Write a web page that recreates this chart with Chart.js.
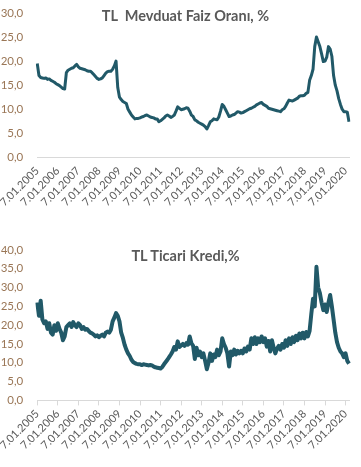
<!DOCTYPE html>
<html>
<head>
<meta charset="utf-8">
<script src="https://cdn.jsdelivr.net/npm/chart.js@4.4.1/dist/chart.umd.min.js"></script>
<style>
  html, body { margin: 0; padding: 0; background: #fff; }
  #wrap { position: relative; width: 361px; height: 467px; overflow: hidden; }
  canvas { position: absolute; left: 0; }
  .title {
    position: absolute; left: 5px; width: 361px; text-align: center;
    font-family: Lato, "Open Sans", sans-serif; font-weight: bold;
    font-size: 14.5px; color: #595959; white-space: pre;
  }
</style>
</head>
<body>
<div id="wrap">
  <canvas id="c1" width="361" height="230" style="top:0"></canvas>
  <canvas id="c2" width="361" height="230" style="top:237px"></canvas>
  <div class="title" style="top:7px">TL  Mevduat Faiz Oranı, %</div>
  <div class="title" style="top:247px">TL Ticari Kredi,%</div>
</div>
<script>
/* global Chart */

const LINE_COLOR = "#215968";
const Y_TICK_COLOR = "#9a7656";
const X_TICK_COLOR = "#595959";
const AXIS_COLOR = "#d9d9d9";

// x-axis year labels (one every 12 monthly points)
const yearTicks = [
  "7.01.2005", "7.01.2006", "7.01.2007", "7.01.2008", "7.01.2009", "7.01.2010",
  "7.01.2011", "7.01.2012", "7.01.2013", "7.01.2014", "7.01.2015", "7.01.2016",
  "7.01.2017", "7.01.2018", "7.01.2019", "7.01.2020"
];

// TL deposit rate, % (monthly readings, Jan 2005 - Mar 2020)
const depositRate = [
  19.5, 17.0, 16.6, 16.5, 16.4, 16.5, 16.2, 16.3, 16.0, 15.8, 15.6, 15.3, // 2005
  15.1, 14.9, 14.6, 14.3, 14.2, 17.6, 18.1, 18.3, 18.5, 18.6, 19.0, 19.3, // 2006
  18.8, 18.5, 18.4, 18.3, 18.2, 18.0, 17.9, 17.9, 17.6, 17.2, 16.8, 16.4, // 2007
  16.2, 16.3, 16.5, 17.0, 17.5, 17.8, 17.9, 17.9, 18.3, 19.0, 20.0, 14.5, // 2008
  12.5, 12.0, 11.6, 11.4, 11.2, 10.0, 9.4, 8.8, 8.4, 8.0, 8.1, 8.1,       // 2009
  8.2, 8.4, 8.5, 8.7, 8.8, 8.6, 8.4, 8.3, 8.2, 8.0, 8.0, 7.4,             // 2010
  7.6, 7.9, 8.2, 8.6, 8.8, 8.6, 8.3, 8.5, 8.8, 9.6, 10.5, 10.2,           // 2011
  9.9, 10.0, 10.1, 10.3, 10.2, 9.6, 8.8, 8.5, 7.8, 7.6, 7.3, 7.1,         // 2012
  6.9, 6.7, 6.4, 5.9, 6.6, 7.4, 7.6, 8.0, 7.9, 7.8, 8.4, 9.6,             // 2013
  11.0, 10.6, 9.9, 9.2, 8.5, 8.6, 8.8, 8.9, 9.2, 9.5, 9.4, 9.2,           // 2014
  9.3, 9.5, 9.7, 9.9, 10.1, 10.2, 10.4, 10.6, 10.9, 11.1, 11.3, 11.4,     // 2015
  11.0, 10.8, 10.6, 10.2, 10.1, 10.0, 9.9, 9.8, 9.7, 9.6, 9.5, 9.9,       // 2016
  10.1, 10.6, 11.3, 11.9, 11.8, 11.7, 11.9, 12.1, 12.3, 12.7, 12.8, 12.8, // 2017
  12.9, 13.3, 13.5, 16.0, 17.0, 18.3, 23.0, 25.0, 24.0, 23.0, 21.5, 19.9, // 2018
  20.0, 20.8, 23.0, 22.5, 21.0, 17.0, 15.0, 13.8, 12.2, 11.0, 10.0, 9.5,  // 2019
  9.5, 9.4, 7.4                                                           // 2020
];

// TL commercial loan rate, % (monthly readings, Jan 2005 - Mar 2020)
const loanRate = [
  26.0, 22.5, 26.5, 21.5, 20.5, 21.0, 19.0, 20.5, 18.0, 17.5, 20.0, 18.5, // 2005
  20.5, 19.0, 18.0, 16.0, 17.0, 19.5, 20.0, 20.5, 19.5, 20.8, 20.0, 19.5, // 2006
  20.5, 20.0, 19.0, 19.5, 18.8, 19.0, 18.5, 18.0, 17.8, 17.5, 17.0, 17.3, // 2007
  16.8, 17.2, 17.5, 17.0, 18.0, 18.3, 18.0, 18.8, 21.0, 22.0, 23.2, 22.5, // 2008
  21.0, 18.0, 16.6, 14.8, 13.5, 12.5, 11.8, 10.8, 10.2, 9.9, 9.7, 9.6,    // 2009
  9.6, 9.4, 9.6, 9.5, 9.4, 9.3, 9.4, 9.3, 9.0, 8.8, 8.7, 8.6,             // 2010
  8.5, 8.9, 9.6, 10.2, 10.8, 11.5, 12.2, 13.0, 14.2, 13.5, 15.7, 14.2,    // 2011
  14.6, 15.0, 14.5, 15.2, 14.8, 17.0, 15.2, 14.5, 11.0, 14.0, 12.0, 13.0, // 2012
  11.5, 12.5, 10.5, 8.3, 10.0, 12.5, 10.5, 12.2, 11.5, 13.5, 12.0, 13.0,  // 2013
  16.5, 15.0, 14.0, 12.5, 9.0, 13.0, 12.0, 13.5, 12.2, 13.2, 12.5, 13.2,  // 2014
  12.5, 13.8, 13.0, 14.3, 13.5, 16.5, 15.0, 16.8, 15.0, 16.5, 15.5, 17.0, // 2015
  15.5, 16.5, 14.3, 15.8, 13.0, 16.0, 14.0, 12.5, 13.8, 14.5, 13.5, 15.0, // 2016
  14.0, 16.0, 14.5, 16.5, 15.0, 16.8, 15.5, 17.2, 16.0, 17.8, 16.5, 18.0, // 2017
  16.5, 18.2, 17.0, 18.5, 23.0, 27.0, 25.0, 35.5, 30.0, 28.5, 26.0, 24.0, // 2018
  25.5, 23.5, 26.0, 28.0, 25.0, 21.5, 18.0, 15.5, 14.0, 13.0, 12.5, 11.5, // 2019
  12.5, 10.5, 9.8                                                         // 2020
];

// one category per monthly point
const months = depositRate.map((_, i) => `${2005 + Math.floor(i / 12)}-${String(i % 12 + 1).padStart(2, "0")}`);

const FONT = "Lato, 'Open Sans', sans-serif";
const fmtComma = (v) => Number(v).toFixed(1).replace(".", ",");

function buildOptions({ yMax, showTicks, padTop, padBottom }) {
  return {
    responsive: false,
    animation: false,
    layout: { padding: { top: padTop, right: 12, bottom: padBottom, left: 0 } },
    plugins: { legend: { display: false }, tooltip: { enabled: false } },
    scales: {
      x: {
        type: "category",
        ticks: {
          autoSkip: false,
          maxRotation: 45,
          minRotation: 45,
          padding: 2,
          color: X_TICK_COLOR,
          font: { family: FONT, size: 11 },
          callback: (val, idx) => (idx % 12 === 0 ? yearTicks[idx / 12] : "")
        },
        grid: {
          display: showTicks,
          drawOnChartArea: false,
          drawTicks: true,
          tickLength: 5,
          color: (ctx) => (ctx.index % 12 === 0 ? AXIS_COLOR : "transparent")
        },
        border: { display: true, color: AXIS_COLOR, width: 1 }
      },
      y: {
        min: 0,
        max: yMax,
        afterFit: (s) => { s.width = 36; },
        ticks: {
          stepSize: 5,
          padding: 6,
          color: Y_TICK_COLOR,
          font: { family: FONT, size: 11.5 },
          callback: fmtComma
        },
        grid: { display: false },
        border: { display: false }
      }
    }
  };
}

function lineDataset(data, width) {
  return {
    data,
    borderColor: LINE_COLOR,
    backgroundColor: LINE_COLOR,
    borderWidth: width,
    pointRadius: 0,
    tension: 0,
    borderJoinStyle: "round"
  };
}

new Chart(document.getElementById("c1").getContext("2d"), {
  type: "line",
  data: { labels: months, datasets: [lineDataset(depositRate, 3)] },
  options: buildOptions({ yMax: 30, showTicks: false, padTop: 11, padBottom: 19 })
});

new Chart(document.getElementById("c2").getContext("2d"), {
  type: "line",
  data: { labels: months, datasets: [lineDataset(loanRate, 4)] },
  options: buildOptions({ yMax: 40, showTicks: true, padTop: 12, padBottom: 13 })
});
</script>
</body>
</html>
